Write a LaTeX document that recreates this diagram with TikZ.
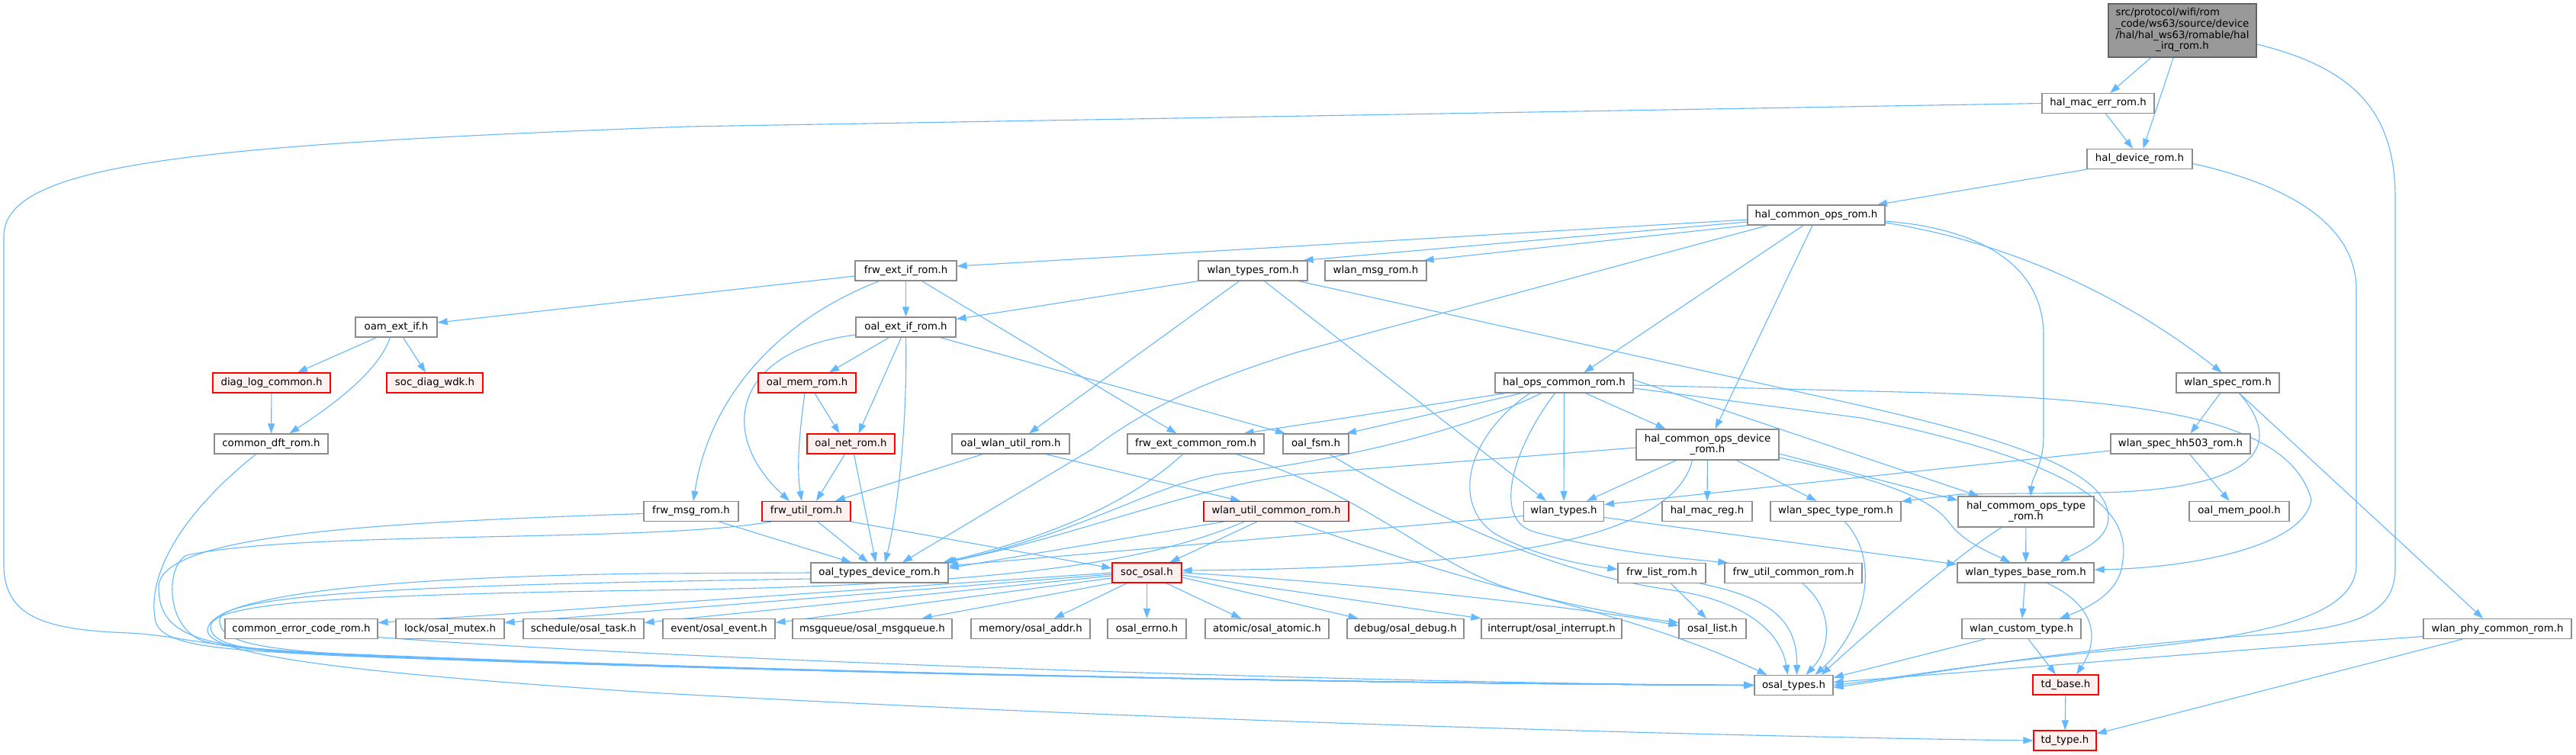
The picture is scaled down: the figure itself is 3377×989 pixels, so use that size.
\documentclass[tikz,border=0pt]{standalone}
\usepackage{fontspec}
\setmainfont{DejaVu Sans}
\usetikzlibrary{arrows.meta}
\definecolor{edgeblue}{HTML}{63B8FF}
\definecolor{boxgray}{HTML}{8C8C8C}
\definecolor{rootfill}{HTML}{999999}
\definecolor{rootline}{HTML}{666666}
\definecolor{redfill}{HTML}{FFF0F0}
\definecolor{redline}{HTML}{FF0000}
\newcommand\gfont{\fontsize{13.3}{14.7}\selectfont}
\pgfdeclarelayer{bg}
\pgfsetlayers{bg,main}
\tikzset{
  box/.style={draw=boxgray, fill=white, line width=1.2pt, minimum height=26pt, inner sep=0pt, font=\gfont, text=black},
  redbox/.style={box, draw=redline, fill=redfill},
  rootbox/.style={box, draw=rootline, fill=rootfill},
  dep/.style={draw=edgeblue, line width=1.1pt, -{Triangle[length=13pt,width=9pt]}},
}
\begin{document}
\begin{tikzpicture}[x=1pt,y=-1pt]
\useasboundingbox (0,0) rectangle (3377,989);
% ---------------- nodes ----------------
\node[rootbox, minimum width=194pt, minimum height=70pt] (T) at (2861,40) {\begin{tabular}{@{}l@{}}src/protocol/wifi/rom\\\_code/ws63/source/device\\/hal/hal\_ws63/romable/hal\\\multicolumn{1}{@{}c@{}}{\_irq\_rom.h}\end{tabular}};
\node[box, minimum width=147pt] (HME) at (2750.5,135.5) {hal\_mac\_err\_rom.h};
\node[box, minimum width=138pt] (HD) at (2805,208.5) {hal\_device\_rom.h};
\node[box, minimum width=180pt] (HCO) at (2381,282) {hal\_common\_ops\_rom.h};
\node[box, minimum width=133pt] (FEI) at (1187.5,355) {frw\_ext\_if\_rom.h};
\node[box, minimum width=143pt] (WTR) at (1642.5,355) {wlan\_types\_rom.h};
\node[box, minimum width=133pt] (WMR) at (1803.5,355) {wlan\_msg\_rom.h};
\node[box, minimum width=107pt] (OAM) at (519.5,429) {oam\_ext\_if.h};
\node[box, minimum width=131pt] (OEI) at (1187.5,429) {oal\_ext\_if\_rom.h};
\node[redbox, minimum width=154pt] (DIAG) at (356,502) {diag\_log\_common.h};
\node[redbox, minimum width=126pt] (WDK) at (570,502) {soc\_diag\_wdk.h};
\node[box, minimum width=149pt] (CDR) at (355.5,582) {common\_dft\_rom.h};
\node[redbox, minimum width=128pt] (OMR) at (1058,502) {oal\_mem\_rom.h};
\node[redbox, minimum width=115pt] (ONR) at (1115.5,582) {oal\_net\_rom.h};
\node[box, minimum width=154pt] (OWU) at (1325,582) {oal\_wlan\_util\_rom.h};
\node[box, minimum width=179pt] (FEC) at (1567.5,582) {frw\_ext\_common\_rom.h};
\node[box, minimum width=86pt] (FSM) at (1725,582) {oal\_fsm.h};
\node[box, minimum width=181pt] (HOC) at (2050.5,502) {hal\_ops\_common\_rom.h};
\node[box, minimum width=187pt, minimum height=40pt, align=center] (HCOD) at (2238.5,583) {hal\_common\_ops\_device\\\_rom.h};
\node[box, minimum width=135pt] (WSR) at (2920.5,502) {wlan\_spec\_rom.h};
\node[box, minimum width=183pt] (WSH) at (2858.5,582) {wlan\_spec\_hh503\_rom.h};
\node[box, minimum width=124pt] (FMR) at (906,670.5) {frw\_msg\_rom.h};
\node[redbox, minimum width=116pt] (FUR) at (1057,670.5) {frw\_util\_rom.h};
\node[redbox, minimum width=190pt] (WUC) at (1673,670.5) {wlan\_util\_common\_rom.h};
\node[box, minimum width=105pt] (WT) at (2050,670.5) {wlan\_types.h};
\node[box, minimum width=118pt] (HMR) at (2238,670.5) {hal\_mac\_reg.h};
\node[box, minimum width=171pt] (WSTR) at (2406.5,670.5) {wlan\_spec\_type\_rom.h};
\node[box, minimum width=178pt, minimum height=40pt, align=center] (HCOT) at (2656,671) {hal\_commom\_ops\_type\\\_rom.h};
\node[box, minimum width=131pt] (OMP) at (2935.5,670.5) {oal\_mem\_pool.h};
\node[box, minimum width=180pt] (OTD) at (1153,751) {oal\_types\_device\_rom.h};
\node[redbox, minimum width=91pt] (SO) at (1503.5,751) {soc\_osal.h};
\node[box, minimum width=115pt] (FLR) at (2178.5,751.5) {frw\_list\_rom.h};
\node[box, minimum width=180pt] (FUC) at (2351,751.5) {frw\_util\_common\_rom.h};
\node[box, minimum width=179pt] (WTB) at (2655.5,751) {wlan\_types\_base\_rom.h};
\node[box, minimum width=200pt] (CEC) at (395,824.5) {common\_error\_code\_rom.h};
\node[box, minimum width=142pt] (LOCK) at (590,824.5) {lock/osal\_mutex.h};
\node[box, minimum width=158pt] (TASK) at (765,824.5) {schedule/osal\_task.h};
\node[box, minimum width=147pt] (EVT) at (942.5,824.5) {event/osal\_event.h};
\node[box, minimum width=209pt] (MSGQ) at (1143.5,824.5) {msgqueue/osal\_msgqueue.h};
\node[box, minimum width=156pt] (MEM) at (1351,824.5) {memory/osal\_addr.h};
\node[box, minimum width=103pt] (ERR) at (1503.5,824.5) {osal\_errno.h};
\node[box, minimum width=162pt] (ATOM) at (1661,824.5) {atomic/osal\_atomic.h};
\node[box, minimum width=153pt] (DBG) at (1842.5,824.5) {debug/osal\_debug.h};
\node[box, minimum width=184pt] (INTR) at (2034,824.5) {interrupt/osal\_interrupt.h};
\node[box, minimum width=88pt] (OSL) at (2245,824.5) {osal\_list.h};
\node[box, minimum width=156pt] (WCT) at (2650,824.5) {wlan\_custom\_type.h};
\node[box, minimum width=194pt] (WPC) at (3274,824.5) {wlan\_phy\_common\_rom.h};
\node[box, minimum width=103pt] (OT) at (2351.5,898.5) {osal\_types.h};
\node[redbox, minimum width=86pt] (TDB) at (2708,898) {td\_base.h};
\node[redbox, minimum width=82pt] (TDT) at (2707,971) {td\_type.h};
% ---------------- edges ----------------
\begin{pgfonlayer}{bg}
\fill[white] (0,0) rectangle (3377,989);
% root
\draw[dep] (T) -- (HME);
\draw[dep] (T) -- (HD);
\draw[dep] ([yshift=-18pt]T.east) .. controls (3090,90) and (3140,150) .. (3140,260) -- (3140,745) .. controls (3140,810) and (3080,826) .. (2940,834) .. controls (2700,852) and (2500,888) .. ([yshift=-3pt]OT.east);
% hal_mac_err
\draw[dep] ([xshift=10pt]HME.south) -- ([xshift=-9pt]HD.north);
\draw[dep] (HME.west) -- (900,166) .. controls (250,190) and (5,215) .. (5,310) -- (5,740) .. controls (5,810) and (60,826) .. (170,830) .. controls (240,834) and (260,848) .. (420,856) .. controls (1100,885) and (1900,897) .. (OT.west);
% hal_device
\draw[dep] (HD.south west) -- ([xshift=80pt]HCO.north);
\draw[dep] ([yshift=-6pt]HD.east) .. controls (2990,240) and (3089,290) .. (3089,380) -- (3089,740) .. controls (3089,800) and (3000,830) .. (2800,850) .. controls (2600,868) and (2480,890) .. (OT.east);
% hal_common_ops
\draw[dep] ([yshift=-6pt]HCO.west) -- ([yshift=6pt]FEI.east);
\draw[dep] ([yshift=-9pt]HCO.west) -- ([xshift=-6pt]WTR.north east);
\draw[dep] (HCO.south west) -- ([xshift=-4pt]WMR.north east);
\draw[dep] ([xshift=-64pt]HCO.south) -- (1700,462) .. controls (1560,505) and (1490,545) .. (1430,590) -- ([xshift=30pt]OTD.north);
\draw[dep] ([xshift=-17pt]HCO.south) -- ([xshift=26pt]HOC.north);
\draw[dep] ([xshift=-5pt]HCO.south) -- ([xshift=10pt]HCOD.north);
\draw[dep] ([yshift=-8pt]HCO.east) .. controls (2600,300) and (2679,350) .. (2679,440) -- (2679,570) .. controls (2679,610) and (2664,625) .. ([xshift=6pt]HCOT.north);
\draw[dep] ([yshift=-10pt]HCO.east) .. controls (2650,320) and (2800,400) .. ([xshift=-8pt]WSR.north);
% frw_ext_if_rom
\draw[dep] ([yshift=-7pt]FEI.west) -- ([yshift=6pt]OAM.east);
\draw[dep] (FEI) -- (OEI);
\draw[dep] ([xshift=-35pt]FEI.south) .. controls (1020,420) and (930,520) .. ([xshift=3pt]FMR.north);
\draw[dep] ([xshift=21pt]FEI.south) -- ([xshift=-25pt]FEC.north);
% wlan_types_rom
\draw[dep] (WTR.south west) -- ([yshift=-3pt]OEI.north east);
\draw[dep] ([xshift=-18pt]WTR.south) -- ([xshift=24pt]OWU.north);
\draw[dep] ([xshift=15pt]WTR.south) -- ([xshift=-23pt]WT.north);
\draw[dep] ([xshift=60pt]WTR.south) -- (2440,532) .. controls (2650,580) and (2765,620) .. (2764,680) .. controls (2763,710) and (2720,725) .. ([xshift=45pt]WTB.north);
% hal_ops_common_rom
\draw[dep] ([xshift=-77pt]HOC.south) -- ([xshift=63pt]FEC.north);
\draw[dep] ([xshift=-56pt]HOC.south) -- ([xshift=40pt]FSM.north);
\draw[dep] ([xshift=-30pt]HOC.south) .. controls (1900,575) and (1700,612) .. (1610,620) .. controls (1520,630) and (1420,700) .. ([xshift=85pt]OTD.north);
\draw[dep] (HOC) -- (WT);
\draw[dep] ([xshift=28pt]HOC.south) -- ([xshift=-55pt]HCOD.north);
\draw[dep] ([xshift=-45pt]HOC.south) .. controls (1925,570) and (1900,660) .. (1960,700) .. controls (2010,728) and (2070,740) .. ([yshift=5pt]FLR.west);
\draw[dep] ([xshift=-12pt]HOC.south) .. controls (1985,585) and (1955,680) .. (2010,697) .. controls (2100,722) and (2200,732) .. ([xshift=5pt]FUC.north west);
\draw[dep] ([yshift=-3pt]HOC.east) -- (2530,515) .. controls (2800,525) and (3000,545) .. (3030,655) .. controls (3020,720) and (2860,745) .. ([yshift=4pt]WTB.east);
\draw[dep] ([yshift=-7pt]HOC.east) -- (2440,548) .. controls (2690,600) and (2800,655) .. (2782,740) .. controls (2778,780) and (2730,800) .. ([xshift=50pt]WCT.north);
\draw[dep] ([yshift=4pt]HOC.east) -- ([xshift=-62pt]HCOT.north);
% hal_common_ops_device_rom
\draw[dep] ([yshift=-4pt]HCOD.west) -- (1700,622) .. controls (1560,640) and (1420,700) .. ([xshift=88pt]OTD.north);
\draw[dep] ([xshift=-41pt]HCOD.south) -- ([xshift=30pt]WT.north);
\draw[dep] ([xshift=-20pt]HCOD.south) .. controls (2190,720) and (1900,745) .. ([yshift=3pt]SO.east);
\draw[dep] (HCOD) -- (HMR);
\draw[dep] ([xshift=38pt]HCOD.south) -- ([xshift=-25pt]WSTR.north);
\draw[dep] ([yshift=-12pt]HCOD.east) -- ([yshift=15pt]HCOT.west);
\draw[dep] ([yshift=-17pt]HCOD.east) .. controls (2450,625) and (2530,650) .. (2555,685) .. controls (2575,712) and (2610,725) .. ([xshift=-20pt]WTB.north);
% oal_ext_if_rom
\draw[dep] ([xshift=-22pt]OEI.south) -- ([xshift=29pt]OMR.north);
\draw[dep] ([xshift=-6pt]OEI.south) -- ([xshift=10pt]ONR.north);
\draw[dep] (OEI.south) .. controls (1190,560) and (1175,680) .. ([xshift=7pt]OTD.north);
\draw[dep] ([yshift=-10pt]OEI.west) .. controls (960,460) and (940,570) .. ([xshift=-22pt]FUR.north);
\draw[dep] ([xshift=45pt]OEI.south) -- ([xshift=-40pt]FSM.north);
% oam_ext_if
\draw[dep] ([xshift=-26pt]OAM.south) -- ([xshift=34pt]DIAG.north);
\draw[dep] ([xshift=9pt]OAM.south) -- ([xshift=-12pt]WDK.north);
\draw[dep] ([xshift=-8pt]OAM.south) .. controls (495,490) and (430,535) .. ([xshift=24pt]CDR.north);
\draw[dep] (DIAG) -- (CDR);
\draw[dep] ([xshift=-20pt]CDR.south) .. controls (230,680) and (192,760) .. (204,815) .. controls (212,845) and (280,852) .. (420,858) .. controls (1100,885) and (1900,897) .. (OT.west);
% oal_mem / oal_net / oal_wlan_util
\draw[dep] ([xshift=10pt]OMR.south) -- ([xshift=-15pt]ONR.north);
\draw[dep] ([xshift=-3pt]OMR.south) .. controls (1046,580) and (1045,620) .. ([xshift=-6pt]FUR.north);
\draw[dep] ([xshift=-8pt]ONR.south) -- ([xshift=13pt]FUR.north);
\draw[dep] ([xshift=4pt]ONR.south) -- ([xshift=-5pt]OTD.north);
\draw[dep] ([xshift=-37pt]OWU.south) -- ([xshift=38pt]FUR.north);
\draw[dep] ([xshift=46pt]OWU.south) -- ([xshift=-47pt]WUC.north);
% frw_ext_common_rom
\draw[dep] ([xshift=-17pt]FEC.south) .. controls (1470,670) and (1350,710) .. ([xshift=-7pt]OTD.north east);
\draw[dep] ([xshift=53pt]FEC.south) .. controls (1800,650) and (1880,745) .. (1990,775) .. controls (2100,805) and (2200,830) .. ([xshift=-35pt]OT.north);
% oal_fsm
\draw[dep] ([xshift=18pt]FSM.south) .. controls (1900,690) and (2050,755) .. (2200,775) .. controls (2290,790) and (2335,830) .. ([xshift=-8pt]OT.north);
% wlan_util_common_rom
\draw[dep] ([xshift=-69pt]WUC.south) -- ([yshift=6pt]OTD.east);
\draw[dep] ([xshift=-25pt]WUC.south) -- ([xshift=30pt]SO.north);
\draw[dep] ([xshift=24pt]WUC.south) .. controls (1800,720) and (2000,790) .. ([yshift=8pt]OSL.west);
\draw[dep] ([xshift=-42pt]WUC.south) .. controls (1500,740) and (1300,768) .. (850,774) .. controls (450,780) and (275,790) .. (276,822) .. controls (277,850) and (340,856) .. (500,862) .. controls (1150,886) and (1900,897) .. (OT.west);
% frw_msg_rom
\draw[dep] ([xshift=37pt]FMR.south) -- ([xshift=-37pt]OTD.north);
\draw[dep] ([yshift=-3pt]FMR.west) .. controls (500,685) and (208,700) .. (208,770) .. controls (208,838) and (270,850) .. (450,858) .. controls (1120,885) and (1900,897) .. (OT.west);
% frw_util_rom
\draw[dep] ([xshift=15pt]FUR.south) -- ([xshift=-15pt]OTD.north);
\draw[dep] (FUR.south east) -- ([yshift=6pt]SO.west);
\draw[dep] ([xshift=-46pt]FUR.south) .. controls (850,712) and (400,695) .. (245,728) .. controls (218,740) and (215,820) .. (265,840) .. controls (300,852) and (400,857) .. (520,862) .. controls (1150,886) and (1900,897) .. (OT.west);
% oal_types_device_rom
\draw[dep] ([yshift=-8pt]OTD.west) .. controls (700,765) and (292,772) .. (288,812) .. controls (285,845) and (350,853) .. (520,862) .. controls (1150,886) and (1900,897) .. (OT.west);
\draw[dep] (OTD.west) -- (850,752) .. controls (420,758) and (272,790) .. (272,827) .. controls (275,862) and (500,885) .. (850,908) .. controls (1600,950) and (2400,968) .. (TDT.west);
% common_error_code
\draw[dep] ([yshift=-11pt]CEC.east) .. controls (900,866) and (1800,896) .. (OT.west);
% soc_osal
\draw[dep] (SO.west) -- ([yshift=8pt]CEC.east);
\draw[dep] ([yshift=-2pt]SO.west) -- ([yshift=8pt]LOCK.east);
\draw[dep] ([yshift=-4pt]SO.west) -- ([yshift=8pt]TASK.east);
\draw[dep] ([yshift=-7pt]SO.west) -- ([yshift=8pt]EVT.east);
\draw[dep] (SO.south west) -- ([xshift=65pt]MSGQ.north);
\draw[dep] ([xshift=-26pt]SO.south) -- ([xshift=31pt]MEM.north);
\draw[dep] (SO) -- (ERR);
\draw[dep] ([xshift=25pt]SO.south) -- ([xshift=-34pt]ATOM.north);
\draw[dep] ([yshift=-6pt]SO.east) -- ([xshift=-62pt]DBG.north);
\draw[dep] ([yshift=-3pt]SO.east) -- (INTR.north west);
\draw[dep] (SO.east) .. controls (1800,765) and (2100,800) .. ([yshift=4pt]OSL.west);
% frw_list / frw_util_common / wlan_spec_type
\draw[dep] ([xshift=12pt]FLR.south) -- ([xshift=-8pt]OSL.north);
\draw[dep] ([xshift=50pt]FLR.south) .. controls (2330,785) and (2356,820) .. ([xshift=4pt]OT.north);
\draw[dep] ([xshift=12pt]FUC.south) .. controls (2405,800) and (2400,850) .. ([xshift=16pt]OT.north);
\draw[dep] ([xshift=12pt]WSTR.south) .. controls (2470,740) and (2440,830) .. ([xshift=28pt]OT.north);
% hal_commom_ops_type
\draw[dep] (HCOT) -- (WTB);
\draw[dep] ([xshift=-32pt]HCOT.south) .. controls (2585,715) and (2480,800) .. ([xshift=36pt]OT.north);
% wlan_types.h
\draw[dep] ([yshift=-6pt]WT.west) -- ([yshift=9pt]OTD.east);
\draw[dep] ([yshift=-8pt]WT.east) -- ([yshift=11pt]WTB.west);
% wlan_types_base / custom / td
\draw[dep] ([xshift=28pt]WTB.south) .. controls (2760,800) and (2745,850) .. ([xshift=14pt]TDB.north);
\draw[dep] (WTB) -- (WCT);
\draw[dep] ([xshift=9pt]WCT.south) -- ([xshift=-13pt]TDB.north);
\draw[dep] ([xshift=-48pt]WCT.south) -- ([yshift=10pt]OT.east);
\draw[dep] (TDB) -- (TDT);
% wlan_spec
\draw[dep] ([xshift=-10pt]WSR.south) -- ([xshift=13pt]WSH.north);
\draw[dep] ([xshift=15pt]WSR.south) .. controls (3000,590) and (2950,642) .. (2750,646) -- (2570,648) -- ([yshift=13pt]WSTR.east);
\draw[dep] ([xshift=15pt]WSR.south) -- ([xshift=-19pt]WPC.north);
\draw[dep] ([xshift=12pt]WSH.south) -- ([xshift=-13pt]OMP.north);
\draw[dep] ([yshift=-9pt]WSH.west) -- ([yshift=9pt]WT.east);
% wlan_phy_common
\draw[dep] ([yshift=-10pt]WPC.west) .. controls (2900,855) and (2600,880) .. ([yshift=4pt]OT.east);
\draw[dep] ([xshift=-46pt]WPC.south) -- ([yshift=9pt]TDT.east);
\end{pgfonlayer}
\end{tikzpicture}
\end{document}
